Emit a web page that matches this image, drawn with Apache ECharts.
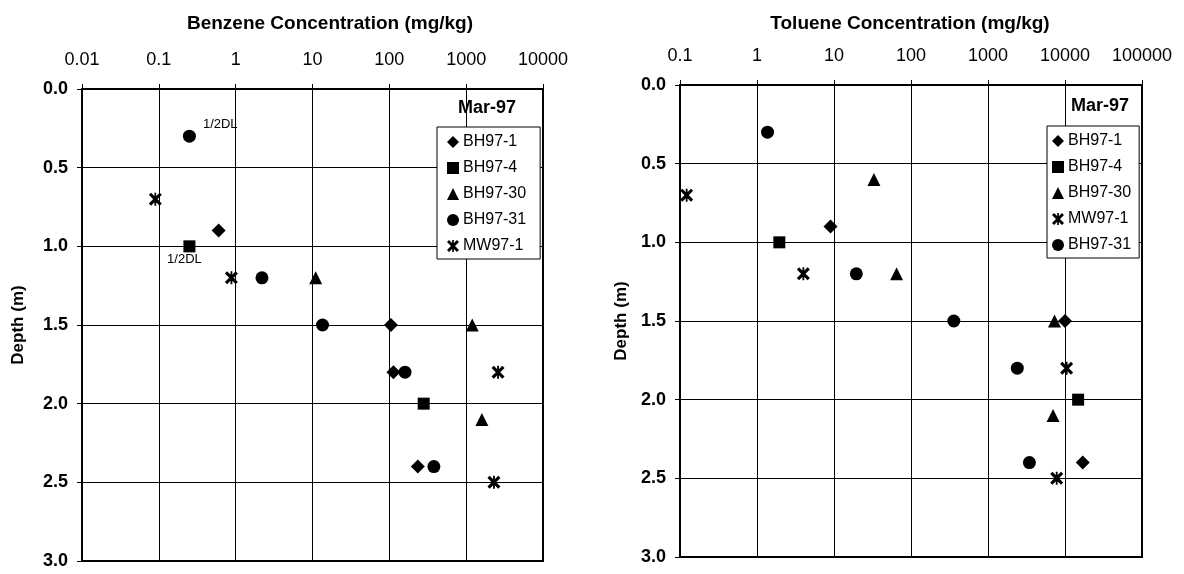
<!DOCTYPE html>
<html><head><meta charset="utf-8">
<script src="https://cdn.jsdelivr.net/npm/echarts@6/dist/echarts.min.js"></script>
<style>html,body{margin:0;padding:0;background:#fff}#c{width:1184px;height:574px}</style>
</head><body><div id="c"></div>
<script>
// ---------- DATA ----------
const benzeneTicks = ['0.01','0.1','1','10','100','1000','10000'];
const tolueneTicks = ['0.1','1','10','100','1000','10000','100000'];
const depthTicks = ['0.0','0.5','1.0','1.5','2.0','2.5','3.0'];

const benzeneLegend = ['BH97-1','BH97-4','BH97-30','BH97-31','MW97-1'];
const tolueneLegend = ['BH97-1','BH97-4','BH97-30','MW97-1','BH97-31'];

// Benzene (mg/kg) vs depth (m)
const bzBH97_1_conc  = [0.6, 105, 113, 235];
const bzBH97_1_depth = [0.9, 1.5, 1.8, 2.4];
const bzBH97_4_conc  = [0.25, 280];
const bzBH97_4_depth = [1.0, 2.0];
const bzBH97_30_conc  = [11, 1200, 1600];
const bzBH97_30_depth = [1.2, 1.5, 2.1];
const bzBH97_31_conc  = [0.25, 2.2, 13.5, 160, 380];
const bzBH97_31_depth = [0.3, 1.2, 1.5, 1.8, 2.4];
const bzMW97_1_conc  = [0.09, 0.88, 2600, 2300];
const bzMW97_1_depth = [0.7, 1.2, 1.8, 2.5];

// Toluene (mg/kg) vs depth (m)
const tlBH97_1_conc  = [9, 10000, 17000];
const tlBH97_1_depth = [0.9, 1.5, 2.4];
const tlBH97_4_conc  = [1.95, 14800];
const tlBH97_4_depth = [1.0, 2.0];
const tlBH97_30_conc  = [33, 65, 7300, 7000];
const tlBH97_30_depth = [0.6, 1.2, 1.5, 2.1];
const tlMW97_1_conc  = [0.122, 4, 10500, 7800];
const tlMW97_1_depth = [0.7, 1.2, 1.8, 2.5];
const tlBH97_31_conc  = [1.37, 19.5, 360, 2400, 3450];
const tlBH97_31_depth = [0.3, 1.2, 1.5, 1.8, 2.4];

// half-detection-limit annotations (benzene plot): series name, point index
const halfDL = [
  {series: 'BH97-31', index: 0, text: '1/2DL', pos: 'right', offset: [2, -12]},
  {series: 'BH97-4',  index: 0, text: '1/2DL', pos: 'bottom', offset: [-5, -4]}
];

// ---------- STYLE ----------
const FONT = 'Liberation Sans, Arial, Helvetica, sans-serif';
const starPath = 'path://M43 0 L57 0 L57 100 L43 100 Z M0 17 L17 0 L100 83 L83 100 Z M83 0 L100 17 L17 100 L0 83 Z';
const symbols = {
  'BH97-1': ['diamond', 14],
  'BH97-4': ['rect', 12],
  'BH97-30': ['triangle', 13],
  'BH97-31': ['circle', 13],
  'MW97-1': [starPath, 13]
};

function pairs(conc, depth, name, annotate) {
  return conc.map((c, i) => {
    const item = {value: [c, depth[i]]};
    if (annotate) {
      const a = halfDL.find(h => h.series === name && h.index === i);
      if (a) item.label = {show: true, formatter: a.text, position: a.pos, offset: a.offset,
        fontSize: 13, fontFamily: FONT, color: '#000'};
    }
    return item;
  });
}

function mkSeries(name, conc, depth, axisIdx, annotate) {
  return {
    type: 'scatter', name: name,
    xAxisIndex: axisIdx, yAxisIndex: axisIdx,
    symbol: symbols[name][0], symbolSize: symbols[name][1],
    itemStyle: {color: '#000', opacity: 1},
    emphasis: {disabled: true},
    data: pairs(conc, depth, name, annotate),
    z: 5
  };
}

function logFmt(ticks, minExp) {
  return v => ticks[Math.round(Math.log10(v)) - minExp];
}

function xAx(gridIndex, min, max, ticks, minExp) {
  return {
    type: 'log', logBase: 10, gridIndex, min, max, position: 'top',
    axisLine: {show: true, lineStyle: {color: '#000', width: 2}},
    axisTick: {show: true, inside: false, length: 5, lineStyle: {color: '#000', width: 1}},
    minorTick: {show: false},
    axisLabel: {formatter: logFmt(ticks, minExp), fontSize: 18, fontFamily: FONT, color: '#000', margin: 20},
    splitLine: {show: true, lineStyle: {color: '#000', width: 1}}
  };
}
function yAx(gridIndex) {
  return {
    type: 'value', gridIndex, min: 0, max: 3, interval: 0.5, inverse: true,
    axisLine: {show: true, lineStyle: {color: '#000', width: 2}},
    axisTick: {show: true, inside: false, length: 5, lineStyle: {color: '#000', width: 1}},
    axisLabel: {formatter: v => depthTicks[Math.round(v / 0.5)], fontSize: 18, fontWeight: 'bold',
      fontFamily: FONT, color: '#000', margin: 14},
    splitLine: {show: true, lineStyle: {color: '#000', width: 1}}
  };
}

function legendCfg(data, left, top, padding) {
  return {
    data, orient: 'vertical', left, top, padding,
    itemGap: 10, itemWidth: 12, itemHeight: 12, itemStyle: {color: '#000'},
    backgroundColor: '#fff', borderColor: '#000', borderWidth: 1, borderRadius: 0,
    textStyle: {fontSize: 16, fontFamily: FONT, color: '#000', padding: [0,0,0,-1]},
    selectedMode: false, z: 10
  };
}

const txt = (text, x, y, size, weight, rot) => ({
  type: 'text', x, y, rotation: rot || 0, z: 20,
  style: {text, fontSize: size, fontWeight: weight, fontFamily: FONT, fill: '#000',
    align: 'center', verticalAlign: 'middle'}
});

const option = {
  backgroundColor: '#fff',
  animation: false,
  grid: [
    {left: 82, top: 89, width: 461, height: 472, show: true, borderColor: '#000', borderWidth: 2, backgroundColor: 'transparent'},
    {left: 680, top: 85, width: 462, height: 472, show: true, borderColor: '#000', borderWidth: 2, backgroundColor: 'transparent'}
  ],
  xAxis: [xAx(0, 0.01, 10000, benzeneTicks, -2), xAx(1, 0.1, 100000, tolueneTicks, -1)],
  yAxis: [yAx(0), yAx(1)],
  legend: [
    legendCfg(benzeneLegend, 437, 127, [7, 14, 5, 10]),
    legendCfg(tolueneLegend, 1047, 126, [7, 8, 5, 5])
  ],
  graphic: [
    txt('Benzene Concentration (mg/kg)', 330, 24, 19, 'bold'),
    txt('Toluene Concentration (mg/kg)', 910, 24, 19, 'bold'),
    txt('Depth (m)', 18, 325, 17, 'bold', Math.PI / 2),
    txt('Depth (m)', 621, 321, 17, 'bold', Math.PI / 2),
    txt('Mar-97', 487, 108, 18, 'bold'),
    txt('Mar-97', 1100, 106, 18, 'bold')
  ],
  series: [
    mkSeries('BH97-1', bzBH97_1_conc, bzBH97_1_depth, 0, true),
    mkSeries('BH97-4', bzBH97_4_conc, bzBH97_4_depth, 0, true),
    mkSeries('BH97-30', bzBH97_30_conc, bzBH97_30_depth, 0, true),
    mkSeries('BH97-31', bzBH97_31_conc, bzBH97_31_depth, 0, true),
    mkSeries('MW97-1', bzMW97_1_conc, bzMW97_1_depth, 0, true),
    mkSeries('BH97-1', tlBH97_1_conc, tlBH97_1_depth, 1, false),
    mkSeries('BH97-4', tlBH97_4_conc, tlBH97_4_depth, 1, false),
    mkSeries('BH97-30', tlBH97_30_conc, tlBH97_30_depth, 1, false),
    mkSeries('MW97-1', tlMW97_1_conc, tlMW97_1_depth, 1, false),
    mkSeries('BH97-31', tlBH97_31_conc, tlBH97_31_depth, 1, false)
  ]
};

const chart = echarts.init(document.getElementById('c'), null, {renderer: 'canvas'});
chart.setOption(option);
</script></body></html>
